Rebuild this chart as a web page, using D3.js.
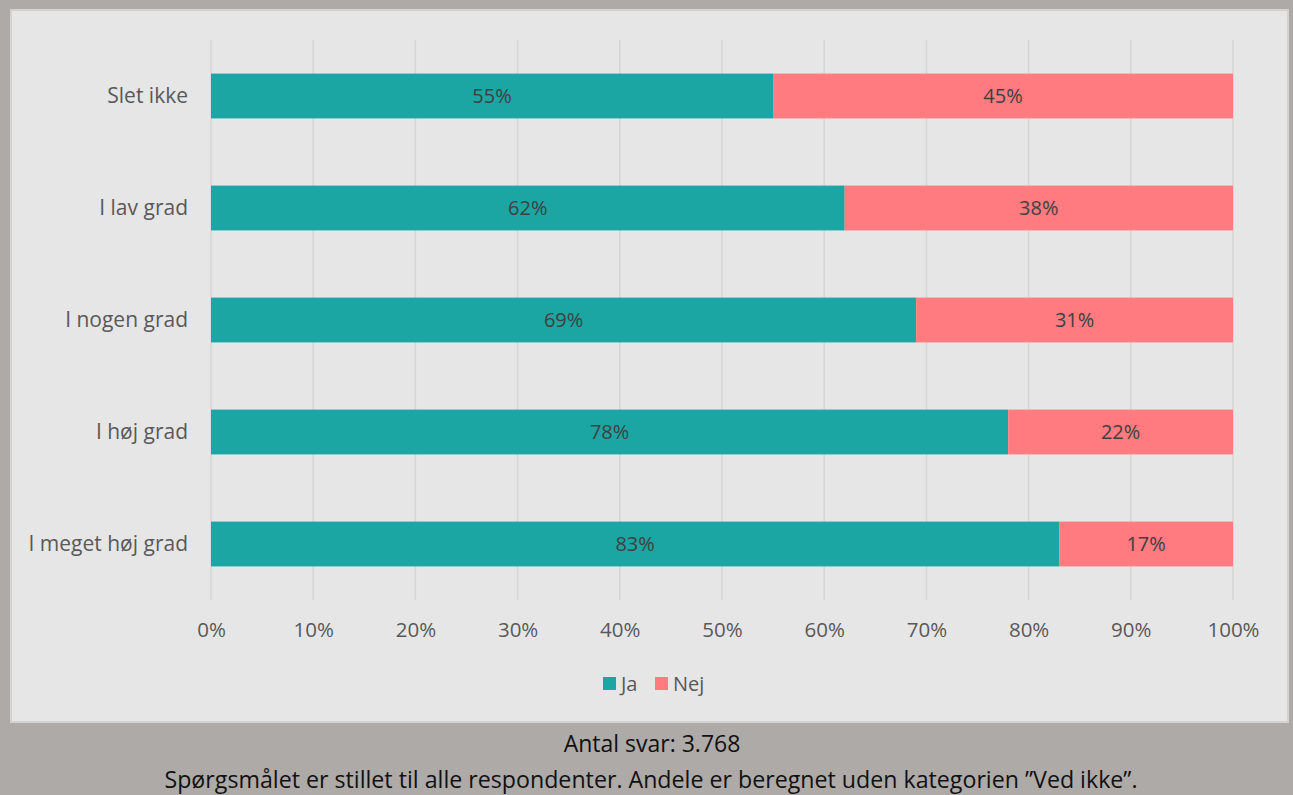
<!DOCTYPE html>
<html><head><meta charset="utf-8">
<script src="https://cdn.jsdelivr.net/npm/d3@7"></script>
<style>
body{margin:0;background:#adaaa8;}
svg{display:block;}
text{font-family:"Open Sans",sans-serif;}
</style></head>
<body><svg id="c" width="1293" height="795"></svg>
<script>
const categories = ["Slet ikke","I lav grad","I nogen grad","I høj grad","I meget høj grad"];
const ja  = [55,62,69,78,83];
const nej = [45,38,31,22,17];
const seriesNames = ["Ja","Nej"];
const seriesColors = ["#1ba6a3","#ff7b7f"];
const xTicks = [0,10,20,30,40,50,60,70,80,90,100];
const footer1 = "Antal svar: 3.768";
const footer2 = "Spørgsmålet er stillet til alle respondenter. Andele er beregnet uden kategorien ”Ved ikke”.";

const FF = "'Open Sans',sans-serif";
const svg = d3.select("#c");
svg.append("rect").attr("width",1293).attr("height",795).attr("fill","#adaaa8");
svg.append("rect").attr("x",11).attr("y",10).attr("width",1277).attr("height",712)
  .attr("fill","#e6e6e6").attr("stroke","#d4d2d0").attr("stroke-width",2);

const x = d3.scaleLinear().domain([0,100]).range([211,1233]);
const y = d3.scaleBand().domain(categories).range([40,600]).paddingInner(0.6).paddingOuter(0.3);

svg.append("g").selectAll("line").data(xTicks).join("line")
  .attr("x1",d=>x(d)).attr("x2",d=>x(d)).attr("y1",40).attr("y2",600)
  .attr("stroke","#d6d6d6").attr("stroke-width",1.5);

const rows = categories.map((c,i)=>({c, vals:[ja[i],nej[i]]}));
const g = svg.append("g");
rows.forEach(r=>{
  let acc=0;
  r.vals.forEach((v,si)=>{
    g.append("rect").attr("x",x(acc)).attr("y",y(r.c)).attr("width",x(acc+v)-x(acc)).attr("height",y.bandwidth())
      .attr("fill",seriesColors[si]);
    g.append("text").attr("x",(x(acc)+x(acc+v))/2).attr("y",y(r.c)+y.bandwidth()/2).attr("dy","0.35em")
      .attr("text-anchor","middle").attr("font-size",20).attr("fill","#404040").text(v+"%");
    acc+=v;
  });
});

const xa = svg.append("g").attr("transform","translate(0,600)").call(d3.axisBottom(x).tickValues(xTicks).tickFormat(d=>d+"%").tickSize(0).tickPadding(22));
xa.select(".domain").remove();
xa.selectAll("text").attr("font-size",20.5).attr("fill","#595959").attr("font-family",FF);

const ya = svg.append("g").attr("transform","translate(211,0)").call(d3.axisLeft(y).tickSize(0).tickPadding(23));
ya.select(".domain").remove();
ya.selectAll("text").attr("font-size",21).attr("fill","#595959").attr("font-family",FF);

const lg = svg.append("g");
const lx = [603,655];
seriesNames.forEach((n,i)=>{
  lg.append("rect").attr("x",lx[i]).attr("y",677).attr("width",13).attr("height",13).attr("fill",seriesColors[i]);
  lg.append("text").attr("x",lx[i]+18).attr("y",684).attr("dy","0.35em").attr("font-size",20).attr("fill","#595959").text(n);
});

svg.append("text").attr("x",652).attr("y",752).attr("text-anchor","middle").attr("font-size",23).attr("fill","#111").text(footer1);
svg.append("text").attr("x",651).attr("y",788).attr("text-anchor","middle").attr("font-size",23.2).attr("fill","#111").text(footer2);
</script></body></html>
